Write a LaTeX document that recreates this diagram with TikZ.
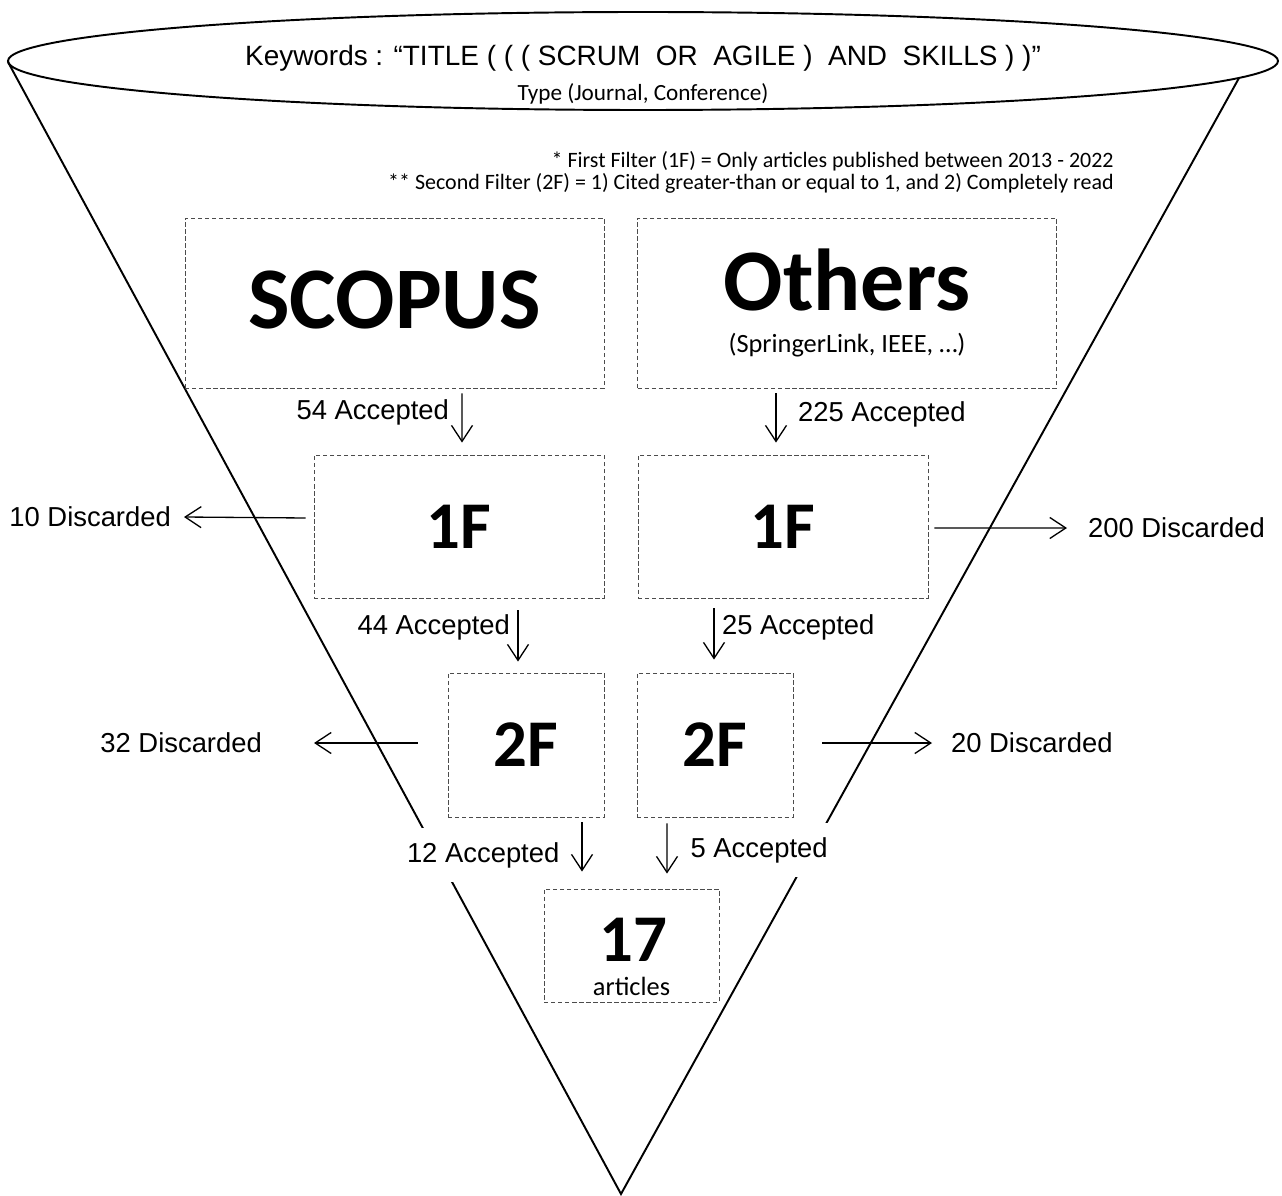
\documentclass[tikz,border=0pt]{standalone}
\usepackage{fontspec}
\setmainfont{Liberation Sans}
\newfontfamily\calibrifont{Carlito}
\usetikzlibrary{arrows.meta,calc}

\begin{document}
\begin{tikzpicture}
[x=0.02cm, y=-0.02cm,
  funnelDecorate/.style={line width=1.1pt, line join=miter},
  boxDecorate/.style={draw=black!70, line width=0.5pt, dash pattern=on 2.5pt off 1.5pt, inner sep=0pt},
  flowDecorate/.style={-{Straight Barb[length=0.32cm,width=0.42cm]}, line width=0.75pt},
  labelDecorate/.style={font=\fontsize{15.6}{18}\selectfont, inner sep=1pt},
  coverDecorate/.style={fill=white, inner xsep=3pt, inner ysep=0.28cm},
  bigDecorate/.style={font=\calibrifont\bfseries\fontsize{50}{52}\selectfont},
  midDecorate/.style={font=\calibrifont\bfseries\fontsize{38}{40}\selectfont},
  noteDecorate/.style={font=\calibrifont\fontsize{12.5}{14}\selectfont, inner sep=0pt}]
\useasboundingbox (0,0) rectangle (1282,1196);

%% funnel
\draw[funnelDecorate] (643,61) ellipse [x radius=635, y radius=49];
\coordinate (apex) at (621,1194);
\draw[funnelDecorate] (8,62) -- (apex) -- (1239,78);

%% header texts
\node[font=\fontsize{15.9}{18}\selectfont] (keys) at (643,58)
  {Keywords : “TITLE ( ( ( SCRUM\ \ OR\ \ AGILE )\ \ AND\ \ SKILLS ) )”};
\node[font=\calibrifont\fontsize{13.2}{15}\selectfont] (type) at (643,94)
  {Type (Journal, Conference)};
\node[noteDecorate, anchor=east] (note1) at (1114,161)
  {* First Filter (1F) = Only articles published between 2013 - 2022};
\node[noteDecorate, anchor=east] (note2) at (1114,183)
  {** Second Filter (2F) = 1) Cited greater-than or equal to 1, and 2) Completely read};

%% boxes
\node[boxDecorate, bigDecorate, minimum width=8.38cm, minimum height=3.4cm, text depth=0.15cm] (scopus) at (394.5,303) {SCOPUS};
\node[boxDecorate, minimum width=8.38cm, minimum height=3.4cm, align=center, font=\calibrifont] (others) at (847,303)
  {\fontsize{50}{52}\selectfont\bfseries Others\\[12pt]
   \fontsize{15}{18}\selectfont\mdseries (SpringerLink, IEEE, …)};
\node[boxDecorate, midDecorate, minimum width=5.8cm, minimum height=2.86cm] (f1l) at (459,526.5) {1F};
\node[boxDecorate, midDecorate, minimum width=5.8cm, minimum height=2.86cm] (f1r) at (783,526.5) {1F};
\node[boxDecorate, midDecorate, minimum width=3.12cm, minimum height=2.88cm] (f2l) at (526,745) {2F};
\node[boxDecorate, midDecorate, minimum width=3.12cm, minimum height=2.88cm] (f2r) at (715,745) {2F};
\node[boxDecorate, minimum width=3.5cm, minimum height=2.26cm] (res) at (631.5,945.5) {};
\node[midDecorate, inner sep=0pt] (num17) at (633,940) {17};
\node[font=\calibrifont\fontsize{15}{17}\selectfont, inner sep=0pt, anchor=base] (artxt) at (631.5,995) {articles};

%% accepted labels
\node[labelDecorate, anchor=east] (a54) at (451,412) {54 Accepted};
\node[labelDecorate, anchor=west] (a225) at (796,414) {225 Accepted};
\node[labelDecorate, anchor=east] (a44) at (512,627) {44 Accepted};
\node[labelDecorate, anchor=west] (a25) at (720,627) {25 Accepted};
\node[labelDecorate, coverDecorate, anchor=east] (a12) at (565,855) {12 Accepted};
\node[labelDecorate, coverDecorate, anchor=west] (a5) at (685,850) {5 Accepted};

%% discarded labels
\node[labelDecorate, anchor=east] (d10) at (173,517) {10 Discarded};
\node[labelDecorate, anchor=east] (d32) at (264,743) {32 Discarded};
\node[labelDecorate, anchor=west] (d200) at (1086,528) {200 Discarded};
\node[labelDecorate, anchor=west] (d20) at (949,743) {20 Discarded};

%% accepted flows
\foreach \from/\sx/\sy/\to/\ex/\ey in {
  scopus/67.5/5/f1l/3/-12, others/-71/5/f1r/-7/-12,
  f1l/59/12/f2l/-8/-11, f1r/-69/10/f2r/-1/-13,
  f2l/56/5/res/-49.5/-17, f2r/-48/6/res/35.5/-15}
{
  \draw[flowDecorate] ($(\from.south)+(\sx,\sy)$) -- ($(\to.north)+(\ex,\ey)$);
}

%% discarded flows
\draw[flowDecorate] ($(f1l.west)+(-8,-8.5)$) -- ($(d10.east)+(11,0)$);
\draw[flowDecorate] ($(f2l.west)+(-30,-2)$) -- ($(d32.east)+(50,0)$);
\draw[flowDecorate] ($(f1r.east)+(6,1.5)$) -- ($(d200.west)+(-19,0)$);
\draw[flowDecorate] ($(f2r.east)+(29,-2)$) -- ($(d20.west)+(-17,0)$);
\end{tikzpicture}
\end{document}
